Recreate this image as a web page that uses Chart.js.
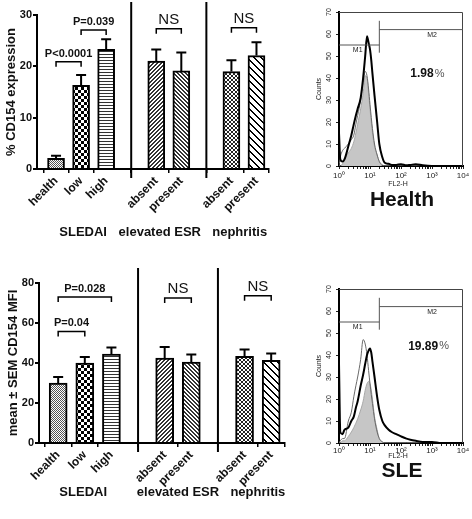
<!DOCTYPE html>
<html>
<head>
<meta charset="utf-8">
<script src="https://cdn.jsdelivr.net/npm/chart.js@4.4.1/dist/chart.umd.min.js"></script>
<style>
  html, body { margin: 0; padding: 0; background: #fff; overflow: hidden; }
  #wrap { position: relative; width: 472px; height: 519px; }
  canvas { position: absolute; }
</style>
</head>
<body>
<div id="wrap">
  <canvas id="pctChart" width="290" height="260" style="left:0;top:0"></canvas>
  <canvas id="mfiChart" width="290" height="259" style="left:0;top:260px"></canvas>
  <canvas id="healthHist" width="182" height="260" style="left:290px;top:0"></canvas>
  <canvas id="sleHist" width="182" height="259" style="left:290px;top:260px"></canvas>
</div>
<script>
// Bar chart data (gaps are the group separators)
const categories = ['health', 'low', 'high', '', 'absent', 'present', '', 'absent', 'present'];
const groupLabels = ['SLEDAI', 'elevated ESR', 'nephritis'];
const barPatterns = ['fineCheck', 'check', 'hlines', null, 'diagUp', 'diagDown', null, 'cross', 'bigDiag'];

const pctValues = [2.1, 16.3, 23.3, null, 21.0, 19.1, null, 19.0, 22.1];
const pctSem    = [0.5, 2.0, 2.0, null, 2.3, 3.6, null, 2.2, 2.6];
const pctBrackets = [
    { from: 0, to: 1, y: 20.9, label: 'P<0.0001' },
    { from: 1, to: 2, y: 27.1, label: 'P=0.039' },
    { from: 4, to: 5, y: 27.3, label: 'NS' },
    { from: 7, to: 8, y: 27.5, label: 'NS' }
];

const mfiValues = [30.0, 40.0, 44.5, null, 42.5, 40.5, null, 43.3, 41.3];
const mfiSem    = [3.0, 3.0, 3.2, null, 5.5, 3.8, null, 3.4, 3.4];
const mfiBrackets = [
    { from: 0, to: 1, y: 55.8, label: 'P=0.04' },
    { from: 0, to: 2, y: 73.0, label: 'P=0.028' },
    { from: 4, to: 5, y: 72.5, label: 'NS' },
    { from: 7, to: 8, y: 73.6, label: 'NS' }
];

// Flow cytometry histograms (FL2-H channel vs counts)
const flChannels = [1, 1.1, 1.3, 1.5, 2, 2.5, 3, 3.5, 4, 5, 6, 7, 8, 9, 10, 11, 12, 14, 17, 20,
                    25, 30, 40, 50, 70, 100, 150, 200, 300, 500, 1000, 2000, 5000, 10000];
const healthBlack = [15, 3, 2, 3, 9, 14, 19, 23, 26, 31, 40, 50, 59, 56, 53, 48, 42, 32, 20, 10,
                     4, 1.5, 1, 0.5, 0.5, 0.8, 0.3, 0.5, 0.8, 0.3, 0, 0, 0, 0];
const healthGrey  = [0, 4, 7, 8, 10, 12, 14, 19, 23, 30, 38, 43, 41, 35, 28, 22, 17, 10, 5, 2,
                     0.5, 0, 0, 0, 0, 0, 0, 0, 0, 0, 0, 0, 0, 0];
const healthIso   = [0, 0, 1, 3, 6, 8, 11, 15, 19, 26, 33, 41, 40, 33, 26, 20, 15, 9, 5, 2,
                     0, 0, 0, 0, 0, 0, 0, 0, 0, 0, 0, 0, 0, 0];
const sleBlack = [36, 5, 4, 6, 7, 10, 12, 16, 19, 26, 31, 36, 40, 42, 43, 41, 37, 30, 21, 15,
                  10, 8, 6, 5, 4, 3, 2, 1.5, 1, 0.5, 0.5, 0, 0, 0];
const sleGrey  = [0, 1, 2, 2, 10, 14, 21, 26, 30, 38, 47, 45, 40, 33, 27, 22, 18, 11, 5, 2,
                  0.5, 0, 0, 0, 0, 0, 0, 0, 0, 0, 0, 0, 0, 0];
const sleIso   = [0, 0, 1, 1, 3, 5, 7, 9, 11, 15, 19, 24, 27, 28, 27, 24, 20, 12, 6, 2,
                  0.5, 0, 0, 0, 0, 0, 0, 0, 0, 0, 0, 0, 0, 0];
const decadeLabels = { 1: '10⁰', 10: '10¹', 100: '10²', 1000: '10³', 10000: '10⁴' };

Chart.defaults.font.family = "'Liberation Sans', Arial, sans-serif";
Chart.defaults.color = '#111';

// Fill patterns for the bars
function tile(w, h, draw) {
    const c = document.createElement('canvas');
    c.width = w; c.height = h;
    const g = c.getContext('2d');
    g.fillStyle = '#fff';
    g.fillRect(0, 0, w, h);
    g.fillStyle = '#000';
    draw(g);
    return g.createPattern(c, 'repeat');
}

const patterns = {
    fineCheck: tile(2, 2, g => { g.fillStyle = '#555'; g.fillRect(0, 0, 1, 1); g.fillRect(1, 1, 1, 1); }),
    check: tile(6, 6, g => { g.fillRect(0, 0, 3, 3); g.fillRect(3, 3, 3, 3); }),
    hlines: tile(4, 3, g => { g.fillStyle = '#333'; g.fillRect(0, 0, 4, 1); }),
    diagUp: tile(4, 4, g => {
        g.fillStyle = '#333';
        for (let i = 0; i < 4; i++) { g.fillRect(i, 3 - i, 1, 1); g.fillRect((i + 1) % 4, 3 - i, 1, 1); }
    }),
    diagDown: tile(4, 4, g => {
        g.fillStyle = '#333';
        for (let i = 0; i < 4; i++) { g.fillRect(i, i, 1, 1); g.fillRect((i + 1) % 4, i, 1, 1); }
    }),
    cross: tile(4, 4, g => {
        g.fillStyle = '#222';
        for (let i = 0; i < 4; i++) { g.fillRect(i, i, 1, 1); g.fillRect(i, 3 - i, 1, 1); }
    }),
    bigDiag: tile(7, 7, g => {
        for (let i = 0; i < 7; i++) { g.fillRect(i, i, 1, 1); g.fillRect((i + 1) % 7, i, 1, 1); }
    })
};

// Error bars, dividers, brackets and group names
function barDecor(cfg) {
    return {
        id: 'barDecor',
        afterDraw(chart) {
            const { ctx, chartArea: area } = chart;
            const xs = chart.scales.x, ys = chart.scales.y;
            ctx.save();
            ctx.strokeStyle = '#000';
            ctx.fillStyle = '#111';

            // error bars (upper only)
            ctx.lineWidth = 2;
            cfg.values.forEach((v, i) => {
                if (v === null) return;
                const x = xs.getPixelForValue(i);
                const y0 = ys.getPixelForValue(v);
                const y1 = ys.getPixelForValue(v + cfg.sem[i]);
                ctx.beginPath();
                ctx.moveTo(x, y0);
                ctx.lineTo(x, y1);
                ctx.moveTo(x - 5, y1);
                ctx.lineTo(x + 5, y1);
                ctx.stroke();
            });

            // group dividers
            categories.forEach((c, i) => {
                if (c !== '') return;
                const x = xs.getPixelForValue(i);
                ctx.beginPath();
                ctx.moveTo(x, cfg.dividerTop);
                ctx.lineTo(x, area.bottom + 9);
                ctx.stroke();
            });

            // significance brackets
            ctx.lineWidth = 1.5;
            ctx.textAlign = 'center';
            ctx.textBaseline = 'alphabetic';
            cfg.brackets.forEach(b => {
                const xa = xs.getPixelForValue(b.from);
                const xb = xs.getPixelForValue(b.to);
                const yb = ys.getPixelForValue(b.y);
                ctx.beginPath();
                ctx.moveTo(xa, yb + 5);
                ctx.lineTo(xa, yb);
                ctx.lineTo(xb, yb);
                ctx.lineTo(xb, yb + 5);
                ctx.stroke();
                ctx.font = b.label === 'NS' ? "15px 'Liberation Sans', Arial" : "bold 11px 'Liberation Sans', Arial";
                ctx.fillText(b.label, (xa + xb) / 2, yb - 5);
            });

            // group names under the axis
            ctx.font = "bold 13px 'Liberation Sans', Arial";
            ctx.textBaseline = 'middle';
            groupLabels.forEach((g, i) => {
                ctx.fillText(g, xs.getPixelForValue(cfg.groupAt[i]), cfg.groupY);
            });
            ctx.restore();
        }
    };
}

function makeBarChart(id, cfg) {
    const pts = [];
    cfg.values.forEach((v, i) => { if (v !== null) pts.push({ x: i, y: v }); });
    const barIdx = pts.map(p => p.x);

    return new Chart(document.getElementById(id), {
        type: 'bar',
        data: {
            datasets: [{
                data: pts,
                backgroundColor: barIdx.map(i => patterns[barPatterns[i]]),
                borderColor: '#000',
                borderWidth: 2,
                barThickness: cfg.barWidth
            }]
        },
        options: {
            responsive: false,
            animation: false,
            devicePixelRatio: 1,
            layout: { padding: { top: cfg.padTop, right: cfg.padRight, left: 0, bottom: 0 } },
            plugins: { legend: { display: false }, tooltip: { enabled: false } },
            scales: {
                x: {
                    type: 'linear',
                    bounds: 'data',
                    min: cfg.xMin,
                    max: cfg.xMax,
                    offset: false,
                    afterBuildTicks: s => { s.ticks = barIdx.map(v => ({ value: v })); },
                    afterFit: s => { s.height = cfg.xAxisHeight; },
                    ticks: {
                        autoSkip: false,
                        minRotation: 45,
                        maxRotation: 45,
                        padding: 1,
                        color: '#111',
                        font: { weight: 'bold', size: 12 },
                        callback: v => categories[v]
                    },
                    grid: { drawOnChartArea: false, tickLength: 4, color: '#000', lineWidth: 1.5 },
                    border: { color: '#000', width: 2 }
                },
                y: {
                    min: 0,
                    max: cfg.yMax,
                    afterFit: s => { s.width = cfg.yAxisWidth; },
                    ticks: { stepSize: cfg.yStep, color: '#111', padding: 1, font: { weight: 'bold', size: 11 } },
                    grid: { drawOnChartArea: false, tickLength: 4, color: '#000', lineWidth: 2 },
                    border: { color: '#000', width: 2 },
                    title: {
                        display: true,
                        text: cfg.yTitle,
                        color: '#111',
                        font: { weight: 'bold', size: 13 },
                        padding: { top: cfg.titlePad, bottom: 0 }
                    }
                }
            }
        },
        plugins: [barDecor(cfg)]
    });
}

// Histogram frame, gates and labels
function histDecor(cfg) {
    return {
        id: 'histDecor',
        afterDraw(chart) {
            const { ctx, chartArea: a } = chart;
            const xs = chart.scales.x, ys = chart.scales.y;
            ctx.save();

            // box top and right
            ctx.strokeStyle = '#444';
            ctx.lineWidth = 1;
            ctx.beginPath();
            ctx.moveTo(a.left, a.top + 0.5);
            ctx.lineTo(a.right - 0.5, a.top + 0.5);
            ctx.lineTo(a.right - 0.5, a.bottom);
            ctx.stroke();

            // M1 / M2 gates
            const gx = xs.getPixelForValue(20);
            const yM1 = ys.getPixelForValue(55), yM2 = ys.getPixelForValue(62);
            ctx.strokeStyle = '#555';
            ctx.beginPath();
            ctx.moveTo(a.left, yM1); ctx.lineTo(gx, yM1);
            ctx.moveTo(gx, yM2); ctx.lineTo(a.right, yM2);
            ctx.moveTo(gx, ys.getPixelForValue(66)); ctx.lineTo(gx, ys.getPixelForValue(51.5));
            ctx.stroke();

            ctx.fillStyle = '#222';
            ctx.font = "7px 'Liberation Sans', Arial";
            ctx.textAlign = 'center';
            ctx.textBaseline = 'top';
            ctx.fillText('M1', xs.getPixelForValue(4), yM1 + 2);
            ctx.fillText('M2', xs.getPixelForValue(1000), yM2 + 2);

            // rotated y tick labels
            ctx.textBaseline = 'middle';
            for (let v = 0; v <= 70; v += 10) {
                ctx.save();
                ctx.translate(a.left - 10, ys.getPixelForValue(v));
                ctx.rotate(-Math.PI / 2);
                ctx.fillText(String(v), 0, 0);
                ctx.restore();
            }
            ctx.save();
            ctx.translate(a.left - 20, (a.top + a.bottom) / 2);
            ctx.rotate(-Math.PI / 2);
            ctx.fillText('Counts', 0, 0);
            ctx.restore();
            ctx.fillText('FL2-H', (a.left + a.right) / 2 - 3, a.bottom + cfg.flOffset);

            // percent in M2
            ctx.textAlign = 'left';
            ctx.fillStyle = '#111';
            ctx.font = "bold 12px 'Liberation Sans', Arial";
            const px = xs.getPixelForValue(cfg.pctAt[0]), py = ys.getPixelForValue(cfg.pctAt[1]);
            ctx.fillText(cfg.pct, px, py);
            const w = ctx.measureText(cfg.pct).width;
            ctx.font = "11px 'Liberation Sans', Arial";
            ctx.fillStyle = '#555';
            ctx.fillText('%', px + w + 1, py);

            // panel title
            ctx.fillStyle = '#111';
            ctx.textAlign = 'center';
            ctx.font = "bold 21px 'Liberation Sans', Arial";
            ctx.fillText(cfg.title, 112, cfg.titleY);
            ctx.restore();
        }
    };
}

function makeHist(id, cfg) {
    const pts = arr => flChannels.map((x, i) => ({ x: x, y: arr[i] }));
    const line = { pointRadius: 0, cubicInterpolationMode: 'monotone', fill: false };

    return new Chart(document.getElementById(id), {
        type: 'line',
        data: {
            datasets: [
                Object.assign({ data: pts(cfg.black), borderColor: '#000', borderWidth: 2 }, line),
                Object.assign({ data: pts(cfg.grey), borderColor: '#6a6a6a', borderWidth: 1 }, line),
                Object.assign({}, line, { data: pts(cfg.iso), borderColor: '#a8a8a8', borderWidth: 1,
                    backgroundColor: '#c6c6c6', fill: 'origin' })
            ]
        },
        options: {
            responsive: false,
            animation: false,
            devicePixelRatio: 1,
            layout: { padding: { top: cfg.padTop, right: 9, left: 0, bottom: 0 } },
            plugins: { legend: { display: false }, tooltip: { enabled: false } },
            scales: {
                x: {
                    type: 'logarithmic',
                    min: 1,
                    max: 10000,
                    afterBuildTicks: s => {
                        const t = [];
                        for (let k = 0; k < 4; k++) {
                            for (let m = 1; m < 10; m++) t.push({ value: m * Math.pow(10, k) });
                        }
                        t.push({ value: 10000 });
                        s.ticks = t;
                    },
                    afterFit: s => { s.height = cfg.xAxisHeight; },
                    ticks: {
                        autoSkip: false,
                        maxRotation: 0,
                        padding: cfg.tickPad,
                        color: '#222',
                        font: { size: 8 },
                        callback: v => decadeLabels[v] || ''
                    },
                    grid: { drawOnChartArea: false, tickLength: 3, color: '#222' },
                    border: { color: '#000', width: 2 }
                },
                y: {
                    min: 0,
                    max: 70,
                    afterFit: s => { s.width = 49; },
                    ticks: { stepSize: 10, display: false },
                    grid: { drawOnChartArea: false, tickLength: 3, color: '#222' },
                    border: { color: '#000', width: 2 }
                }
            }
        },
        plugins: [histDecor(cfg)]
    });
}

document.addEventListener('DOMContentLoaded', () => {
    makeBarChart('pctChart', {
        values: pctValues, sem: pctSem, brackets: pctBrackets,
        yMax: 30, yStep: 10, yTitle: '% CD154 expression', titlePad: 4,
        xMin: -0.76, xMax: 8.5, barWidth: 17,
        padTop: 15, padRight: 21, yAxisWidth: 37, xAxisHeight: 91,
        dividerTop: 2, groupAt: [1.08, 4.14, 7.33], groupY: 232
    });

    makeBarChart('mfiChart', {
        values: mfiValues, sem: mfiSem, brackets: mfiBrackets,
        yMax: 80, yStep: 20, yTitle: 'mean ± SEM CD154 MFI', titlePad: 6,
        xMin: -0.72, xMax: 8.5, barWidth: 18,
        padTop: 23, padRight: 5.5, yAxisWidth: 39, xAxisHeight: 76,
        dividerTop: 8, groupAt: [0.94, 4.5, 7.5], groupY: 232
    });

    makeHist('healthHist', {
        black: healthBlack, grey: healthGrey, iso: healthIso,
        padTop: 12, xAxisHeight: 94, tickPad: 2, flOffset: 18,
        pct: '1.98', pctAt: [200, 42], title: 'Health', titleY: 200
    });

    makeHist('sleHist', {
        black: sleBlack, grey: sleGrey, iso: sleIso,
        padTop: 29, xAxisHeight: 76, tickPad: 0, flOffset: 13,
        pct: '19.89', pctAt: [170, 44], title: 'SLE', titleY: 211
    });
});
</script>
</body>
</html>
